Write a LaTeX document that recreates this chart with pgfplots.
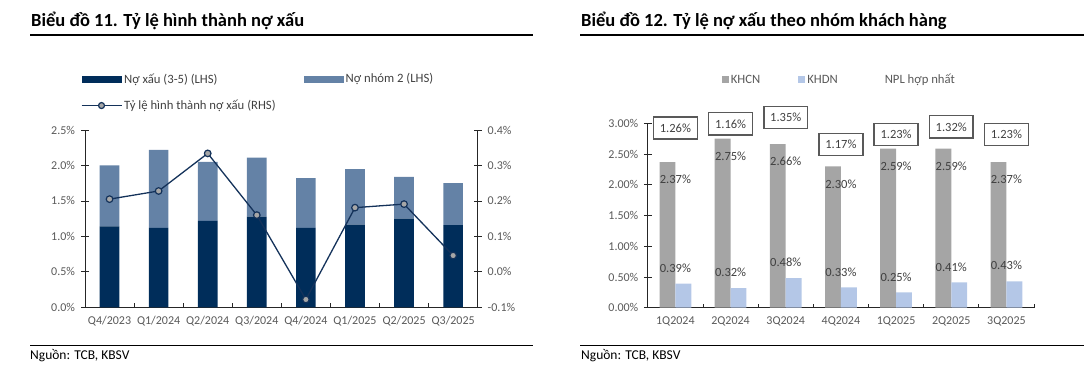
\documentclass[border=0pt]{standalone}
\usepackage{pgfplots}
\pgfplotsset{compat=1.18}
\usepackage{fontspec}
\setmainfont{Carlito}
\definecolor{navy}{HTML}{002D5A}
\definecolor{steel}{HTML}{6482A6}
\definecolor{lineblue}{HTML}{14325A}
\definecolor{mk}{HTML}{A6A6A6}
\definecolor{khcn}{HTML}{A5A5A5}
\definecolor{khdn}{HTML}{B4C7E7}
\definecolor{tickgray}{HTML}{595959}
\definecolor{txt}{HTML}{404040}
\definecolor{boxgray}{HTML}{595959}
\definecolor{axisc}{HTML}{262626}
\pgfplotsset{
  common/.style={
    scale only axis, anchor=south west,
    /pgf/number format/assume math mode=true,
    axis line style={axisc, line width=0.8pt, -},
    tick align=center, major tick length=8pt,
    tick style={axisc, line width=0.8pt},
    tick label style={font=\fontsize{12}{14}\selectfont, text=tickgray},
    xticklabel style={yshift=-1.5pt},
  },
}
\begin{document}
\begin{tikzpicture}[x=1pt,y=1pt]
\path[use as bounding box] (0,0) rectangle (1084,377);
% headers
\node[anchor=base west, inner sep=0, font=\bfseries\fontsize{18.5}{22}\selectfont] at (31,350.3) {Biểu đồ 11. Tỷ lệ hình thành nợ xấu};
\node[anchor=base west, inner sep=0, font=\bfseries\fontsize{18.5}{22}\selectfont] at (581,350.3) {Biểu đồ 12. Tỷ lệ nợ xấu theo nhóm khách hàng};
\draw[line width=1.2pt] (30,342) -- (532.7,342);
\draw[line width=1.2pt] (580,342) -- (1084,342);
\draw[line width=1pt] (30,31.3) -- (532.7,31.3);
\draw[line width=1pt] (580,31.3) -- (1084,31.3);
\node[anchor=base west, inner sep=0, font=\fontsize{13.5}{16}\selectfont] at (30,17.7) {Nguồn: TCB, KBSV};
\node[anchor=base west, inner sep=0, font=\fontsize{13.5}{16}\selectfont] at (581,17.7) {Nguồn: TCB, KBSV};

% ---------- Chart 11 : bars (LHS)
\begin{axis}[common,
  at={(85pt,69.7pt)}, width=392.7pt, height=177.3pt,
  xmin=-0.5, xmax=7.5, ymin=0, ymax=2.5,
  ybar stacked, bar width=0.4,
  axis x line*=bottom, axis y line*=left,
  ytick={0,0.5,1,1.5,2,2.5},
  yticklabels={0.0\%,0.5\%,1.0\%,1.5\%,2.0\%,2.5\%},
  yticklabel style={xshift=-2.5pt},
  xtick={0,1,2,3,4,5,6,7},
  xticklabels={Q4/2023,Q1/2024,Q2/2024,Q3/2024,Q4/2024,Q1/2025,Q2/2025,Q3/2025},
  xtick style={draw=none},
  extra x ticks={-0.5,0.5,1.5,2.5,3.5,4.5,5.5,6.5,7.5},
  extra x tick labels={},
  extra x tick style={tick align=inside, major tick length=4pt, xtick style={draw=axisc}},
  legend style={draw=none, fill=none, at={(axis description cs:-0.011,1.331)}, anchor=north west,
    font=\fontsize{12.7}{15}\selectfont, text=txt, inner sep=0pt, row sep=11.5pt,
    /tikz/every even column/.append style={column sep=26pt}},
  legend columns=2, legend cell align=left,
]
\addplot[fill=navy, draw=none,
  legend image code/.code={\fill[navy] (0pt,-3.5pt) rectangle (40pt,3.5pt);}]
  coordinates {(0,1.14) (1,1.12) (2,1.22) (3,1.28) (4,1.12) (5,1.165) (6,1.25) (7,1.16)};
\addlegendentry{Nợ xấu (3-5) (LHS)}
\addplot[fill=steel, draw=none,
  legend image code/.code={\fill[steel] (0pt,-3.5pt) rectangle (40pt,3.5pt);}]
  coordinates {(0,0.86) (1,1.10) (2,0.83) (3,0.83) (4,0.70) (5,0.785) (6,0.59) (7,0.59)};
\addlegendentry{Nợ nhóm 2 (LHS)}
\addlegendimage{legend image code/.code={
  \draw[lineblue, line width=1.3pt] (0pt,0pt) -- (40pt,0pt);
  \filldraw[fill=mk, draw=lineblue, line width=1.2pt] (20pt,0pt) circle (3pt);}}
\addlegendentry{Tỷ lệ hình thành nợ xấu (RHS)}
\end{axis}

% ---------- Chart 11 : line (RHS)
\begin{axis}[common,
  at={(85pt,69.7pt)}, width=392.7pt, height=177.3pt,
  xmin=-0.5, xmax=7.5, ymin=-0.1, ymax=0.4,
  axis y line*=right, axis x line=none, clip=false,
  ytick={-0.1,0,0.1,0.2,0.3,0.4},
  yticklabels={-0.1\%,0.0\%,0.1\%,0.2\%,0.3\%,0.4\%},
  yticklabel style={xshift=2.5pt},
]
\addplot[lineblue, line width=1.3pt, mark=*, mark size=3.3pt,
  mark options={fill=mk, draw=lineblue, line width=1.2pt}]
  coordinates {(0,0.205) (1,0.228) (2,0.334) (3,0.160) (4,-0.078) (5,0.181) (6,0.191) (7,0.046)};
\end{axis}

% ---------- Chart 12
\begin{axis}[common,
  at={(647.8pt,69.3pt)}, width=386.2pt, height=184.4pt,
  xmin=-0.5, xmax=6.5, ymin=0, ymax=3,
  axis x line*=bottom, axis y line*=left, clip=false,
  ytick={0,0.5,1,1.5,2,2.5,3},
  yticklabels={0.00\%,0.50\%,1.00\%,1.50\%,2.00\%,2.50\%,3.00\%},
  yticklabel style={xshift=-2pt},
  xtick={0,1,2,3,4,5,6},
  xticklabels={1Q2024,2Q2024,3Q2024,4Q2024,1Q2025,2Q2025,3Q2025},
  xtick style={draw=none},
  extra x ticks={-0.5,0.5,1.5,2.5,3.5,4.5,5.5,6.5},
  extra x tick labels={},
  extra x tick style={tick align=inside, major tick length=4pt, xtick style={draw=axisc}},
  legend style={draw=none, fill=none, at={(axis description cs:0.191,1.277)}, anchor=north west,
    font=\fontsize{12.7}{15}\selectfont, text=tickgray, inner sep=0pt,
    /tikz/every even column/.append style={column sep=36pt}},
  legend columns=3, legend cell align=left,
]
\addplot[ybar, bar width=0.288, bar shift=-0.144, fill=khcn, draw=none,
  nodes near coords, point meta=explicit symbolic,
  every node near coord/.append style={anchor=center, yshift=-17.5pt, font=\fontsize{12.5}{15}\selectfont, text=txt},
  legend image code/.code={\fill[khcn] (0pt,-3.5pt) rectangle (7pt,3.5pt);}]
  coordinates {(0,2.37)[2.37\%] (1,2.75)[2.75\%] (2,2.66)[2.66\%] (3,2.30)[2.30\%] (4,2.59)[2.59\%] (5,2.59)[2.59\%] (6,2.37)[2.37\%]};
\addlegendentry{KHCN}
\addplot[ybar, bar width=0.288, bar shift=0.144, fill=khdn, draw=none,
  nodes near coords, point meta=explicit symbolic,
  every node near coord/.append style={anchor=center, yshift=15.5pt, font=\fontsize{12.5}{15}\selectfont, text=txt},
  legend image code/.code={\fill[khdn] (0pt,-3.5pt) rectangle (7pt,3.5pt);}]
  coordinates {(0,0.39)[0.39\%] (1,0.32)[0.32\%] (2,0.48)[0.48\%] (3,0.33)[0.33\%] (4,0.25)[0.25\%] (5,0.41)[0.41\%] (6,0.43)[0.43\%]};
\addlegendentry{KHDN}
\addplot[draw=none, mark=none,
  nodes near coords, point meta=explicit symbolic,
  every node near coord/.append style={anchor=center, draw=boxgray, line width=1.5pt,
    minimum width=43.8pt, minimum height=22.3pt, inner sep=0pt, font=\fontsize{12.5}{15}\selectfont, text=txt},
  legend image code/.code={\path (0pt,0pt) (7pt,0pt);}]
  coordinates {(0,2.923)[1.26\%] (1,2.992)[1.16\%] (2,3.094)[1.35\%] (3,2.655)[1.17\%] (4,2.818)[1.23\%] (5,2.943)[1.32\%] (6,2.818)[1.23\%]};
\addlegendentry{NPL hợp nhất}
\end{axis}
\end{tikzpicture}
\end{document}
